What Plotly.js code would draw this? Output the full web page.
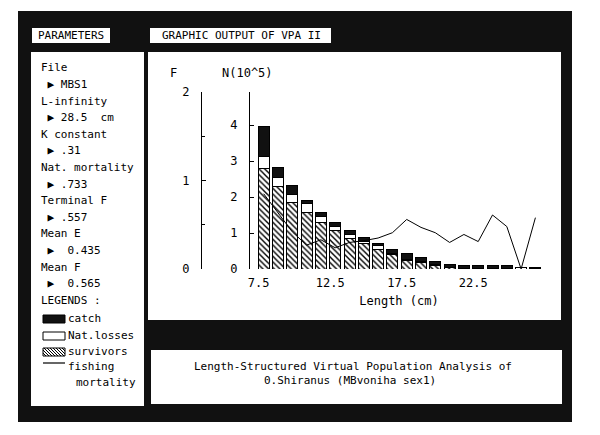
<!DOCTYPE html>
<html>
<head>
<meta charset="utf-8">
<script src="https://cdn.plot.ly/plotly-3.0.1.min.js"></script>
<style>html,body{margin:0;padding:0;background:#fff;}#chart{width:600px;height:435px;}</style>
</head>
<body>
<div id="chart"></div>
<script>
// ---- data ----
const lengthClasses = [7.5,8.5,9.5,10.5,11.5,12.5,13.5,14.5,15.5,16.5,17.5,18.5,19.5,20.5,21.5,22.5,23.5,24.5,25.5,26.5];
const survivors = [2.80,2.29,1.86,1.58,1.28,1.06,0.85,0.70,0.55,0.39,0.25,0.18,0.10,0.03,0.01,0.01,0.01,0.005,0,0];
const natLosses = [0.32,0.25,0.22,0.23,0.17,0.13,0.11,0.06,0.09,0.03,0.02,0.02,0.02,0.01,0.01,0.01,0.01,0.01,0.04,0.01];
const catchN    = [0.85,0.28,0.23,0.09,0.13,0.10,0.10,0.12,0.07,0.13,0.15,0.11,0.10,0.09,0.07,0.07,0.07,0.07,0.0,0.04];
const fishingF  = [0.85,0.63,0.42,0.27,0.33,0.24,0.30,0.32,0.35,0.41,0.56,0.47,0.41,0.30,0.39,0.31,0.61,0.48,0.0,0.58];
const xTickVals = [7.5,12.5,17.5,22.5];
const xTickText = ['7.5','12.5','17.5','22.5'];
const nTickVals = [0,1,2,3,4];
const fTickVals = [0,1,2];
const paramLines = ['File',' \u25B6 MBS1','L-infinity',' \u25B6 28.5  cm','K constant',' \u25B6 .31',
  'Nat. mortality',' \u25B6 .733','Terminal F',' \u25B6 .557','Mean E',' \u25B6  0.435','Mean F',' \u25B6  0.565','LEGENDS :'];
const legendLabels = ['catch','Nat.losses','survivors','fishing','mortality'];
const titleLines = ['Length-Structured Virtual Population Analysis of','0.Shiranus (MBvoniha sex1)'];

// ---- helpers ----
const W = 600, H = 435;
const px = x => x / W;
const py = y => 1 - y / H;
const FONT = 'DejaVu Sans Mono, Liberation Mono, monospace';
const nb = s => s.replace(/ /g, '\u00A0');

const barLine = {color:'black', width:1};
const traces = [
  {type:'bar', x:lengthClasses, y:survivors, width:0.77, name:'survivors',
   marker:{color:'white', line:barLine, pattern:{shape:'\\', fgcolor:'black', bgcolor:'white', size:4, solidity:0.35}}},
  {type:'bar', x:lengthClasses, y:natLosses, width:0.77, name:'Nat.losses',
   marker:{color:'white', line:barLine}},
  {type:'bar', x:lengthClasses, y:catchN, width:0.77, name:'catch',
   marker:{color:'#111', line:barLine}},
  {type:'scatter', mode:'lines', x:lengthClasses, y:fishingF, yaxis:'y2', name:'fishing mortality',
   line:{color:'black', width:1}}
];

const shapes = [];
function rect(x0,y0,x1,y1,fill,lineW,layer){
  shapes.push({type:'rect', xref:'paper', yref:'paper', x0:px(x0), x1:px(x1), y0:py(y1), y1:py(y0),
    fillcolor:fill, line:{width:lineW||0, color:'black'}, layer:layer||'below'});
}
rect(18,11,572,422,'#111',0);
rect(31,52,144,406,'white',0);
rect(148,52,561,320,'white',0);
rect(151,350,562,404,'white',0);
rect(32,28,110,43,'white',0);
rect(150,28,331,43,'white',0);
// legend swatches
rect(43,315,65,323,'#111',1,'above');
rect(43,332,65,340,'white',1,'above');
rect(43,348,65,356,'white',1,'above');
// hatch in survivors swatch
(function(){
  let d = '';
  const x0=43,x1=65,y0=348,y1=356;
  for (let s = x0 - (y1-y0); s < x1; s += 3) {
    let ax = s, ay = y0, bx = s + (y1-y0), by = y1;
    if (ax < x0) { ay = y0 + (x0-ax); ax = x0; }
    if (bx > x1) { by = y1 - (bx-x1); bx = x1; }
    if (bx <= ax) continue;
    d += 'M' + px(ax) + ',' + py(ay) + 'L' + px(bx) + ',' + py(by);
  }
  shapes.push({type:'path', xref:'paper', yref:'paper', path:d, line:{color:'black', width:1}, layer:'above'});
})();
shapes.push({type:'line', xref:'paper', yref:'paper', x0:px(43), x1:px(65), y0:py(363), y1:py(363), line:{color:'black', width:1.2}, layer:'above'});

const annotations = [];
function txt(t, x, y, anchor, size){
  annotations.push({text:nb(t), x:px(x), y:py(y), xref:'paper', yref:'paper', xanchor:anchor||'left', yanchor:'middle',
    showarrow:false, font:{family:FONT, size:size||11, color:'black'}});
}
txt('PARAMETERS', 71, 36, 'center');
txt('GRAPHIC OUTPUT OF VPA II', 241, 36, 'center');
paramLines.forEach((t,i) => txt(t, 39, 68 + 16.6*i));
const legY = [318, 335, 351, 366, 382];
const legX = [66, 66, 66, 66, 74];
legendLabels.forEach((t,i) => txt(t, legX[i], legY[i]));
txt('F', 173, 73, 'center', 12);
txt('N(10^5)', 247, 73, 'center', 12);
txt(titleLines[0], 353, 366, 'center', 11);
txt(titleLines[1], 350, 380, 'center', 11);

const tickFont = {family:FONT, size:12, color:'black'};
const layout = {
  width:W, height:H,
  margin:{l:0, r:0, t:0, b:0},
  paper_bgcolor:'white', plot_bgcolor:'rgba(0,0,0,0)',
  showlegend:false, barmode:'stack', bargap:0,
  xaxis:{domain:[px(250), px(548)], range:[6.542, 27.38], showline:false, ticks:'', showgrid:false, zeroline:false,
    tickvals:xTickVals, ticktext:xTickText, tickfont:tickFont, ticklabelshift:-5, ticklabelstandoff:5,
    title:{text:'Length (cm)', font:tickFont, standoff:7}, automargin:false, fixedrange:true},
  yaxis:{domain:[py(269), py(92)], range:[0, 177/36], showline:true, linecolor:'black', linewidth:1,
    ticks:'inside', ticklen:4, tickcolor:'black', tickvals:nTickVals, tickfont:tickFont, ticklabelstandoff:9,
    showgrid:false, zeroline:false, automargin:false, fixedrange:true},
  yaxis2:{overlaying:'y', anchor:'free', position:px(201), side:'left', range:[0,2], showline:true,
    linecolor:'black', linewidth:1, ticks:'inside', ticklen:4, tickcolor:'black', tickvals:fTickVals,
    minor:{tickvals:[0.5,1.5], ticks:'inside', ticklen:3, tickcolor:'black'},
    tickfont:tickFont, ticklabelstandoff:9, showgrid:false, zeroline:false, automargin:false, fixedrange:true},
  shapes:shapes, annotations:annotations
};
Plotly.newPlot('chart', traces, layout, {staticPlot:true, displayModeBar:false});
</script>
</body>
</html>
